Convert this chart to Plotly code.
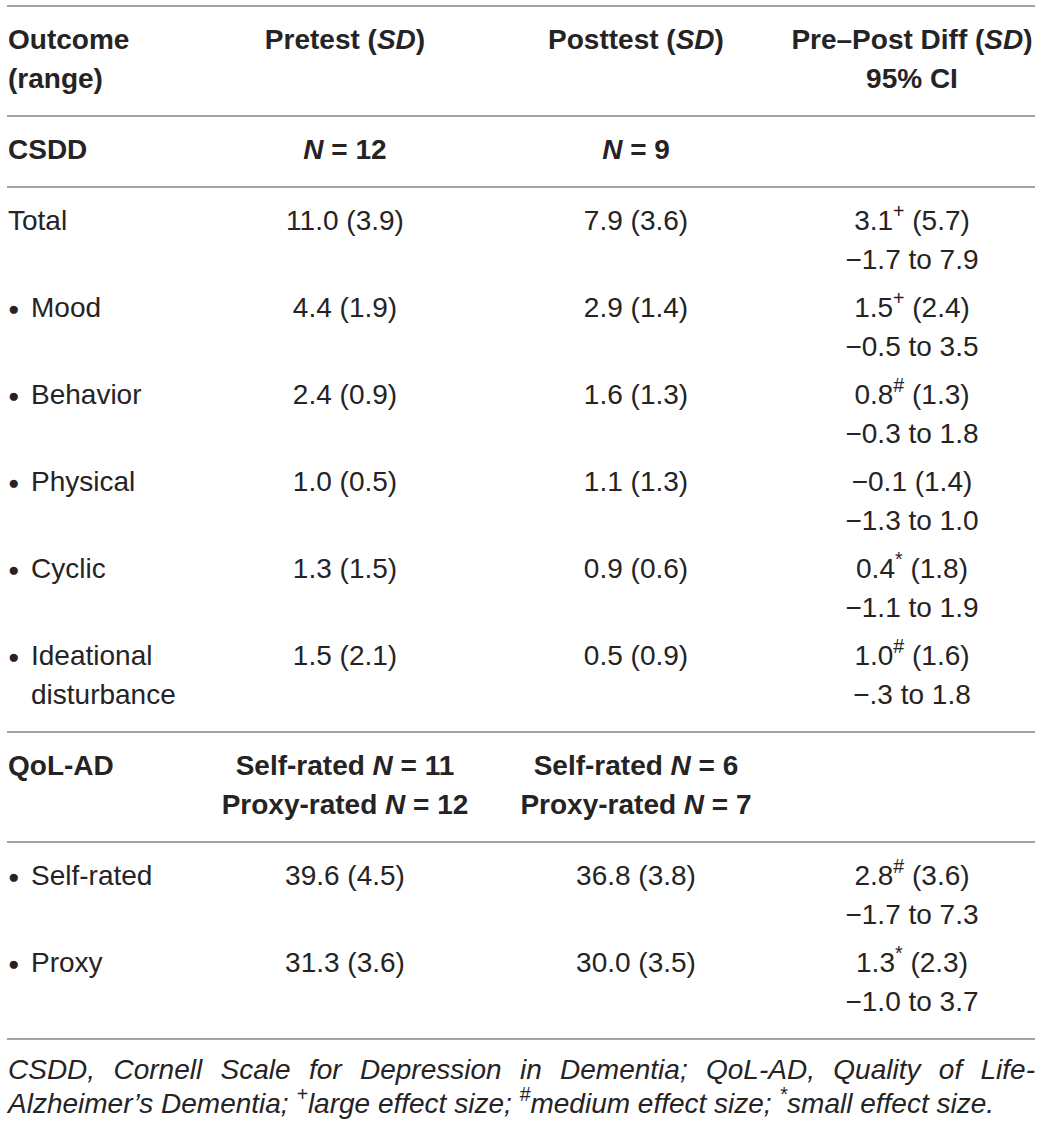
import plotly.graph_objects as go

W, H = 1042, 1126

# ---- table content ----
header = ["<b>Outcome</b><br><b>(range)</b>",
          "<b>Pretest (<i>SD</i>)</b>",
          "<b>Posttest (<i>SD</i>)</b>",
          "<b>Pre–Post Diff (<i>SD</i>)</b><br><b>95% CI</b>"]

csdd_header = ["<b>CSDD</b>", "<b><i>N</i> = 12</b>", "<b><i>N</i> = 9</b>", ""]

csdd_outcomes = ["Total", "Mood", "Behavior", "Physical", "Cyclic", "Ideational<br>disturbance"]
csdd_bullet = [False, True, True, True, True, True]
csdd_pre = ["11.0 (3.9)", "4.4 (1.9)", "2.4 (0.9)", "1.0 (0.5)", "1.3 (1.5)", "1.5 (2.1)"]
csdd_post = ["7.9 (3.6)", "2.9 (1.4)", "1.6 (1.3)", "1.1 (1.3)", "0.9 (0.6)", "0.5 (0.9)"]
csdd_diff = ["3.1", "1.5", "0.8", "−0.1", "0.4", "1.0"]
csdd_effect = ["+", "+", "#", "", "*", "#"]
csdd_diff_sd = ["5.7", "2.4", "1.3", "1.4", "1.8", "1.6"]
csdd_ci = ["−1.7 to 7.9", "−0.5 to 3.5", "−0.3 to 1.8", "−1.3 to 1.0", "−1.1 to 1.9", "−.3 to 1.8"]

qol_header = ["<b>QoL-AD</b>",
              "<b>Self-rated <i>N</i> = 11</b><br><b>Proxy-rated <i>N</i> = 12</b>",
              "<b>Self-rated <i>N</i> = 6</b><br><b>Proxy-rated <i>N</i> = 7</b>",
              ""]

qol_outcomes = ["Self-rated", "Proxy"]
qol_bullet = [True, True]
qol_pre = ["39.6 (4.5)", "31.3 (3.6)"]
qol_post = ["36.8 (3.8)", "30.0 (3.5)"]
qol_diff = ["2.8", "1.3"]
qol_effect = ["#", "*"]
qol_diff_sd = ["3.6", "2.3"]
qol_ci = ["−1.7 to 7.3", "−1.0 to 3.7"]

footnote_line1 = "CSDD, Cornell Scale for Depression in Dementia; QoL-AD, Quality of Life-"
footnote_line2 = ("Alzheimer’s Dementia; <sup>+</sup>large effect size; <sup>#</sup>medium effect size; "
                  "<sup>*</sup>small effect size.")

# ---- layout constants ----
FONT = "Liberation Sans, Arial, Helvetica, sans-serif"
INK = "#262324"
RULE = "#a3a3a3"
col_x = [8, 345, 636, 912]
bullet_x, label_x = 8, 31
top_rule = 6
first_off, rule_off, line_h, row_gap = 36, 35, 39, 48
left, right = 8, 1035

# Arial / Liberation advance widths (1/1000 em) for justifying the first footnote line
ARIAL_W = {" ": 278, ",": 278, ";": 278, "-": 333, "A": 667, "C": 722, "D": 722, "L": 556,
           "Q": 778, "S": 667, "a": 556, "c": 500, "e": 556, "f": 278, "i": 222, "l": 222,
           "m": 833, "n": 556, "o": 556, "p": 556, "r": 333, "s": 500, "t": 278, "u": 556,
           "y": 500}


def text_width(s, size):
    return sum(ARIAL_W.get(ch, 556) for ch in s) * size / 1000


def diff_cell(d, e, sd, ci):
    sup = f"<sup>{e}</sup>" if e else ""
    return f"{d}{sup} ({sd})<br>{ci}"


def body_rows(outcomes, bullets, pre, post, diff, eff, sd, ci):
    return [([o, p, q, diff_cell(d, e, s, c)], b)
            for o, b, p, q, d, e, s, c in zip(outcomes, bullets, pre, post, diff, eff, sd, ci)]


blocks = [
    [(header, False)],
    [(csdd_header, False)],
    body_rows(csdd_outcomes, csdd_bullet, csdd_pre, csdd_post, csdd_diff, csdd_effect, csdd_diff_sd, csdd_ci),
    [(qol_header, False)],
    body_rows(qol_outcomes, qol_bullet, qol_pre, qol_post, qol_diff, qol_effect, qol_diff_sd, qol_ci),
]

# collect text marks per column
cols = [dict(x=[], y=[], t=[]) for _ in range(4)]
bul = dict(x=[], y=[])
rules = [top_rule]
cursor = top_rule
for block in blocks:
    cursor += first_off
    for cells, has_bullet in block:
        n = 1
        for ci_, cell in enumerate(cells):
            lines = cell.split("<br>") if cell else []
            n = max(n, len(lines))
            for i, ln in enumerate(lines):
                x = col_x[ci_]
                if ci_ == 0 and has_bullet:
                    x = label_x
                cols[ci_]["x"].append(x)
                cols[ci_]["y"].append(cursor + i * line_h)
                cols[ci_]["t"].append(ln)
        if has_bullet:
            bul["x"].append(bullet_x)
            bul["y"].append(cursor)
        cursor += (n - 1) * line_h + row_gap
    cursor -= row_gap
    cursor += rule_off
    rules.append(cursor)

fig = go.Figure()

fig.add_trace(go.Scatter(
    x=cols[0]["x"], y=cols[0]["y"], text=cols[0]["t"], mode="text",
    textposition="middle right", textfont=dict(family=FONT, size=28, color=INK),
    hoverinfo="skip"))
for c in cols[1:]:
    fig.add_trace(go.Scatter(
        x=c["x"], y=c["y"], text=c["t"], mode="text",
        textposition="middle center", textfont=dict(family=FONT, size=28, color=INK),
        hoverinfo="skip"))
fig.add_trace(go.Scatter(
    x=bul["x"], y=bul["y"], text=["●"] * len(bul["x"]), mode="text",
    textposition="middle right", textfont=dict(family=FONT, size=19, color=INK),
    hoverinfo="skip"))

# footnote: first line justified word by word, second line left aligned
FN_SIZE = 28
words = footnote_line1.split(" ")
widths = [text_width(w, FN_SIZE) for w in words]
gap = (right - left - sum(widths)) / (len(words) - 1)
wx, pos = [], left
for w_ in widths:
    wx.append(pos)
    pos += w_ + gap
fn_y1 = rules[-1] + 33
fn_y2 = rules[-1] + 67
fig.add_trace(go.Scatter(
    x=wx + [left], y=[fn_y1] * len(words) + [fn_y2],
    text=[f"<i>{w}</i>" for w in words] + [f"<i>{footnote_line2}</i>"], mode="text",
    textposition="middle right", textfont=dict(family=FONT, size=FN_SIZE, color=INK),
    hoverinfo="skip"))

for r in rules:
    fig.add_shape(type="line", xref="x", yref="y", x0=7, x1=1035, y0=r, y1=r,
                  line=dict(color=RULE, width=2))

fig.update_layout(
    width=W, height=H,
    margin=dict(l=0, r=0, t=0, b=0),
    paper_bgcolor="white", plot_bgcolor="white",
    showlegend=False,
    xaxis=dict(range=[0, W], visible=False, fixedrange=True),
    yaxis=dict(range=[H, 0], visible=False, fixedrange=True),
)

fig.write_html("out.html", config={"displayModeBar": False},
               post_script="document.body.style.margin = '0';")
